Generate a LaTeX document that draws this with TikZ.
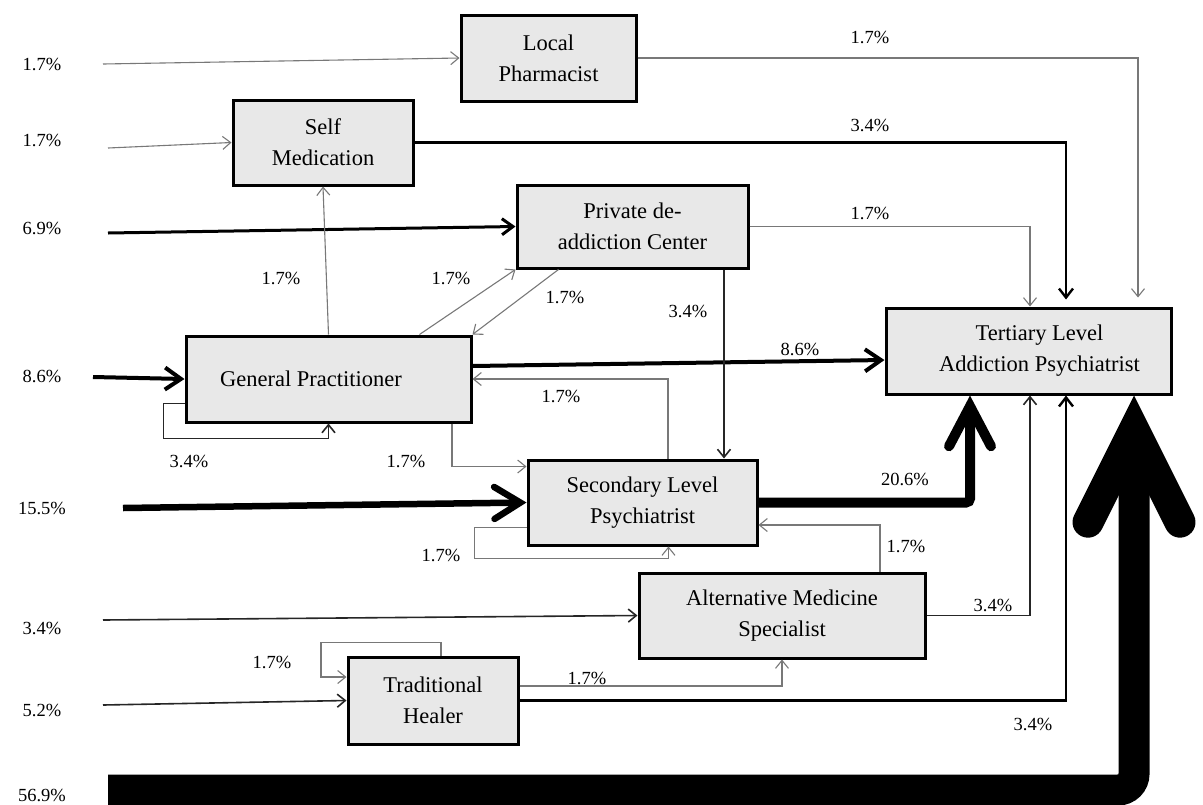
\documentclass[tikz,border=0pt]{standalone}
\usepackage{fontspec}
\setmainfont{Liberation Serif}
\usetikzlibrary{arrows.meta,calc}
\definecolor{boxfill}{RGB}{232,232,232}
\definecolor{lgray}{RGB}{120,120,120}
\begin{document}
\begin{tikzpicture}[x=1pt,y=-1pt,
  box/.style={draw=black,line width=3pt,fill=boxfill,align=center,inner sep=0pt,
    font=\fontsize{22.5}{31}\selectfont},
  lab/.style={font=\fontsize{18.5}{20}\selectfont,inner sep=0pt},
  thinln/.style={draw=lgray,line width=1.1pt,-{Straight Barb[length=8pt,width=13pt]}},
  darkln/.style={draw=black!85,line width=1.6pt,-{Straight Barb[length=8pt,width=13pt]}},
  darkthk/.style={draw=black,line width=2.4pt,-{Straight Barb[length=9pt,width=14pt]}},
]
\useasboundingbox (0,0) rectangle (1203,804);

% boxes
\node[box,minimum width=175pt,minimum height=86pt] (pharm) at (548.5,58) {Local\\Pharmacist};
\node[box,minimum width=180pt,minimum height=85pt] (self) at (323,142.5) {Self\\Medication};
\node[box,minimum width=231pt,minimum height=83pt] (priv) at (632.5,226.5) {Private de-\\addiction Center};
\node[box,minimum width=285pt,minimum height=86pt] (tert) at (1028.5,351) {\hspace*{22pt}Tertiary Level\\\hspace*{22pt}Addiction Psychiatrist};
\node[box,minimum width=285pt,minimum height=86pt] (gp) at (328.5,379) {\hspace*{-35pt}General Practitioner};
\node[box,minimum width=229pt,minimum height=85pt] (sec) at (642.5,502.5) {Secondary Level\\Psychiatrist};
\node[box,minimum width=286pt,minimum height=85pt] (alt) at (782,615.5) {Alternative Medicine\\Specialist};
\node[box,minimum width=170pt,minimum height=87pt] (heal) at (433,700.5) {Traditional\\Healer};

% left labels
\node[lab] (l1) at (42,64) {1.7\%};
\node[lab] (l2) at (42,140) {1.7\%};
\node[lab] (l3) at (42,228) {6.9\%};
\node[lab] (l4) at (42,376) {8.6\%};
\node[lab] (l5) at (42,508) {15.5\%};
\node[lab] (l6) at (42,628) {3.4\%};
\node[lab] (l7) at (42,710) {5.2\%};
\node[lab] (l8) at (42,795) {56.9\%};

% start points of inflows
\coordinate (s1) at (103,64);
\coordinate (s2) at (108,148);
\coordinate (s3) at (108,233);
\coordinate (s4) at (93,377);
\coordinate (s5) at (123,508);
\coordinate (s6) at (103,620);
\coordinate (s7) at (103,705);
\coordinate (s8) at (108,790);

% column coordinates
\coordinate (cA) at (1030,0);
\coordinate (cB) at (1066,0);
\coordinate (cC) at (1138,0);
\coordinate (cD) at (970,0);
\coordinate (cE) at (1134,0);
\coordinate (c724) at (724,0);
\coordinate (c668) at (668,0);
\coordinate (c452) at (452,0);
\coordinate (c880) at (880,0);

% inflows
\draw[thinln] (s1) -- (pharm.west);
\draw[thinln] (s2) -- (self.west);
\draw[draw=black,line width=3pt,-{Straight Barb[length=11pt,width=16pt]}] (s3) -- (priv.west);
\draw[draw=black,line width=4pt,-{Straight Barb[length=16pt,width=22pt]}] (s4) -- (gp.west);
\draw[draw=black,line width=6.5pt,-{Straight Barb[length=26pt,width=32pt,line cap=round]}] (s5) -- (sec.west);
\draw[darkln] (s6) -- (alt.west);
\draw[darkln] (s7) -- (heal.west);
\draw[draw=black,line width=31pt,rounded corners=16pt,
  -{Straight Barb[length=92pt,width=92pt,line cap=round,line join=miter]}]
  (s8) -| (tert.south -| cE);

% flows to tertiary
\draw[thinln,shorten >=9pt] (pharm.east) -| (tert.north -| cC);
\draw[darkthk,shorten >=7pt] (self.east) -| (tert.north -| cB);
\draw[thinln] (priv.east) -| (tert.north -| cA);
\draw[draw=black,line width=4pt,-{Straight Barb[length=16pt,width=22pt]}]
  ($(gp.east)+(0,-13)$) -- ($(tert.west)+(0,9)$);
\draw[draw=black,line width=10pt,rounded corners=4pt,
  -{Straight Barb[length=40pt,width=42pt,line cap=round]}]
  (sec.east) -| (tert.south -| cD);
\draw[darkln] (alt.east) -| (tert.south -| cA);
\draw[darkthk] (heal.east) -| (tert.south -| cB);

% other flows
\draw[darkln] (priv.south -| c724) -- (sec.north -| c724);
\draw[thinln] (gp.north) -- (self.south);
\draw[thinln] ($(gp.north east)+(-53,0)$) -- (priv.south west);
\draw[thinln] ($(priv.south west)+(43,0)$) -- (gp.north east);
\draw[thinln] (sec.north -| c668) |- (gp.east);
\draw[thinln] (gp.south -| c452) |- ($(sec.north west)+(0,8)$);
\draw[darkln] ($(gp.south west)+(0,-20)$) -- ++(-21,0) |- ($(gp.south)+(0,15)$) -- (gp.south);
\draw[thinln] ($(sec.south west)+(0,-19)$) -- ++(-52,0) |- ($(sec.south)+(26,12)$) -- ($(sec.south)+(26,0)$);
\draw[thinln] (alt.north -| c880) |- ($(sec.east)+(0,22.5)$);
\draw[thinln] ($(heal.north)+(8,0)$) -- ++(0,-13) -- ++(-120,0) |- ($(heal.west)+(0,-23.5)$);
\draw[thinln] ($(heal.east)+(0,-14.5)$) -| (alt.south);

% flow labels
\node[lab] at (870,37) {1.7\%};
\node[lab] at (870,125) {3.4\%};
\node[lab] at (870,213) {1.7\%};
\node[lab] at (688,311) {3.4\%};
\node[lab] at (281,278) {1.7\%};
\node[lab] at (451,278) {1.7\%};
\node[lab] at (565,297) {1.7\%};
\node[lab] at (800,349) {8.6\%};
\node[lab] at (561,396) {1.7\%};
\node[lab] at (189,461) {3.4\%};
\node[lab] at (406,461) {1.7\%};
\node[lab] at (905,479) {20.6\%};
\node[lab] at (441,555) {1.7\%};
\node[lab] at (906,546) {1.7\%};
\node[lab] at (993,605) {3.4\%};
\node[lab] at (272,662) {1.7\%};
\node[lab] at (587,678) {1.7\%};
\node[lab] at (1033,724) {3.4\%};
\end{tikzpicture}
\end{document}
